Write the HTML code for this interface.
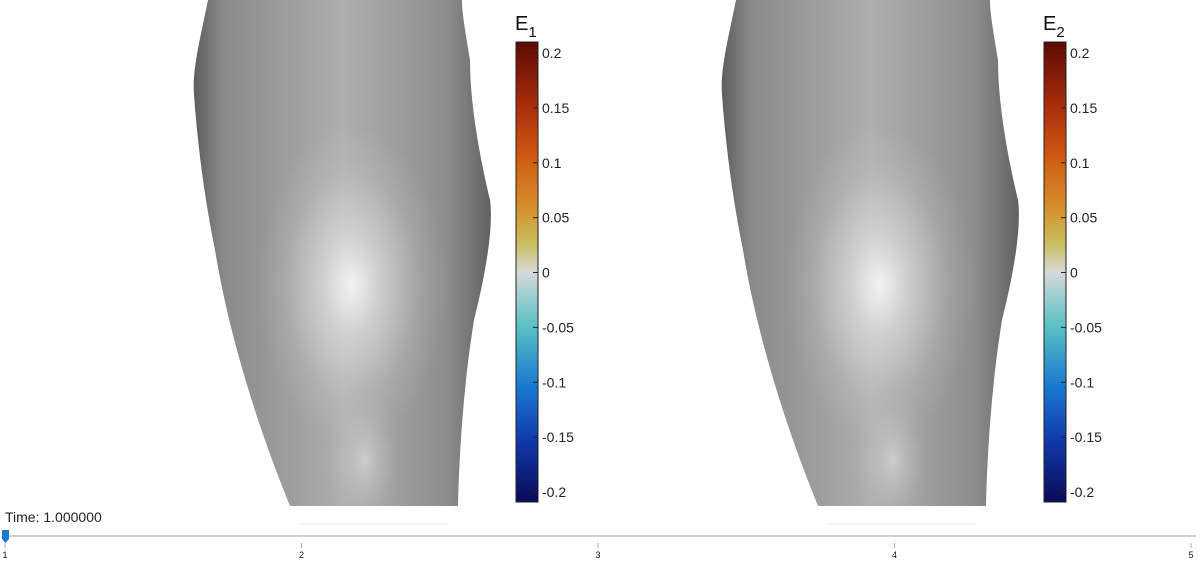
<!DOCTYPE html>
<html><head><meta charset="utf-8"><style>
body{margin:0;background:#fff;width:1200px;height:564px;overflow:hidden;font-family:"Liberation Sans",sans-serif}
svg{position:absolute;left:0;top:0}
</style></head><body>
<svg width="1200" height="564">
<defs>
<linearGradient id="shade" x1="0" x2="1" y1="0" y2="0">
<stop offset="0" stop-color="#5e5e5e"/><stop offset="0.1" stop-color="#8a8a8a"/>
<stop offset="0.5" stop-color="#aeaeae"/><stop offset="0.85" stop-color="#8e8e8e"/>
<stop offset="1" stop-color="#626262"/></linearGradient>
<radialGradient id="hl" cx="0.5" cy="0.5" r="0.5">
<stop offset="0" stop-color="#fff" stop-opacity="0.85"/><stop offset="0.3" stop-color="#fff" stop-opacity="0.45"/>
<stop offset="0.7" stop-color="#fff" stop-opacity="0.12"/>
<stop offset="1" stop-color="#fff" stop-opacity="0"/></radialGradient>
<linearGradient id="cmap" x1="0" x2="0" y1="0" y2="1">
<stop offset="0" stop-color="#5a0c04"/><stop offset="0.13" stop-color="#a42a0a"/>
<stop offset="0.25" stop-color="#d05a12"/><stop offset="0.37" stop-color="#d49430"/>
<stop offset="0.44" stop-color="#c8c060"/><stop offset="0.5" stop-color="#d8d8d8"/>
<stop offset="0.62" stop-color="#58c0c4"/><stop offset="0.75" stop-color="#1a78d0"/>
<stop offset="0.87" stop-color="#1038a8"/><stop offset="1" stop-color="#0a0a58"/></linearGradient>
<g id="leg">
<path d="M208 0 C200 40 192 70 194 95 C198 150 205 200 215 250 C228 330 255 420 290 506 L458 506 C460 430 466 370 474 320 C484 280 494 230 490 200 C478 150 470 100 470 60 C466 35 462 15 462 0 Z" fill="url(#shade)"/>
<ellipse cx="352" cy="285" rx="95" ry="160" fill="url(#hl)"/>
<ellipse cx="365" cy="460" rx="40" ry="70" fill="url(#hl)" opacity="0.5"/>
<line x1="300" y1="524" x2="448" y2="524" stroke="#e4e4e4"/>
</g>
</defs>
<use href="#leg"/>
<use href="#leg" transform="translate(528,0)"/>
<g id="cb1"></g>
<g id="cb2"></g>
<text x="5" y="522" font-size="14" fill="#222">Time: 1.000000</text>
<line x1="5" y1="536" x2="1196" y2="536" stroke="#d0d0d0" stroke-width="2"/>
<g id="ticks"></g>
<path d="M2 530 h7 v9 l-3.5 4 l-3.5 -4 Z" fill="#1a78d0"/>
</svg>
<script>
const cbTicks=[0.2,0.15,0.1,0.05,0,-0.05,-0.1,-0.15,-0.2];
const cbLabels=["0.2","0.15","0.1","0.05","0","-0.05","-0.1","-0.15","-0.2"];
const cbTitles=["1","2"];
const steps=[1,2,3,4,5];
const NS="http://www.w3.org/2000/svg";
function mk(t,a,p){const e=document.createElementNS(NS,t);for(const k in a)e.setAttribute(k,a[k]);p.appendChild(e);return e;}
function yv(v){return 272.5-v/0.2*219.5;}
[["cb1",516],["cb2",1044]].forEach(([id,x],i)=>{
 const g=document.getElementById(id);
 const r=mk('rect',{x:x,y:42,width:22,height:460,fill:'url(#cmap)',stroke:'#222','stroke-width':1},g);
 
 
 const t=mk('text',{x:x-1,y:30,'font-size':20,fill:'#111'},g);t.textContent='E';
 
 
 const s=mk('tspan',{dy:7,'font-size':15},t);s.textContent=cbTitles[i];
 cbTicks.forEach((v,j)=>{
  const y=yv(v);
  mk('line',{x1:x+17,x2:x+22,y1:y,y2:y,stroke:'#222'},g);
  const l=mk('text',{x:x+26,y:y+5,'font-size':14,fill:'#222'},g);l.textContent=cbLabels[j];
  
  
 });
});
const tg=document.getElementById('ticks');
steps.forEach(s=>{
 const x=5+(s-1)*(1191-5)/4;
 mk('line',{x1:x,x2:x,y1:543,y2:548,stroke:'#aaa'},tg);
 const l=mk('text',{x:x,y:558,'font-size':9,fill:'#111','text-anchor':'middle'},tg);l.textContent=s;
 
 
});
</script>
</body></html>
